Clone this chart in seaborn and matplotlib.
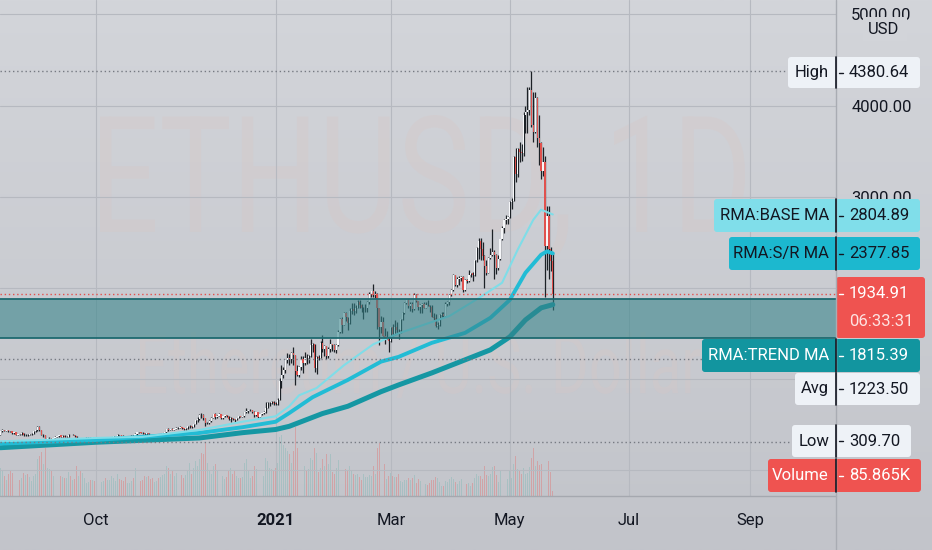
import matplotlib
matplotlib.use('Agg')
import matplotlib.pyplot as plt
import matplotlib.dates as mdates
import matplotlib.transforms as mtransforms
from matplotlib.colors import LinearSegmentedColormap
from matplotlib.patches import FancyBboxPatch, PathPatch, Rectangle
from matplotlib.textpath import TextPath
from matplotlib.font_manager import FontProperties
from matplotlib.ticker import FuncFormatter
import numpy as np
import pandas as pd
import seaborn as sns

sns.set_theme(style='white')
plt.rcParams['font.family'] = ['Roboto', 'DejaVu Sans']

# ---- ETHUSD daily candles, 2020-08-13 .. 2021-05-23 ----
start_date = '2020-08-13'
first_open = 390

close_aug = [428, 437, 433, 434, 429, 423, 406, 416, 389, 396, 391, 408, 382, 386, 382, 395, 399, 428, 434]
high_aug = [430, 446, 440, 438, 440, 431, 425, 420, 418, 398, 398, 415, 410, 393, 395, 398, 402, 430, 436]
low_aug = [389, 418, 425, 424, 418, 415, 400, 398, 385, 383, 387, 389, 378, 378, 370, 380, 390, 398, 420]

close_sep = [477, 440, 385, 388, 335, 353, 353, 337, 351, 368, 374, 387, 366, 377, 364, 365, 389, 384, 385, 371,
             341, 344, 321, 349, 352, 354, 357, 354, 360, 359]
high_sep = [480, 480, 440, 400, 390, 353, 358, 355, 352, 373, 375, 390, 390, 380, 382, 372, 394, 390, 392, 385,
            372, 348, 347, 351, 356, 360, 363, 363, 363, 362]
low_sep = [430, 426, 380, 367, 309.7, 324, 334, 329, 332, 348, 359, 368, 359, 360, 360, 360, 365, 380, 380, 365,
           335, 337, 318, 320, 345, 347, 348, 350, 348, 350]

close_oct = [353, 346, 346, 352, 352, 340, 341, 350, 365, 370, 375, 387, 381, 379, 377, 366, 368, 377, 379, 369,
             391, 412, 413, 410, 406, 393, 404, 388, 386, 383, 386]
high_oct = [361, 355, 350, 354, 354, 354, 343, 352, 368, 373, 377, 394, 388, 383, 381, 378, 369, 378, 382, 380,
            411, 416, 415, 416, 415, 409, 408, 406, 390, 389, 396]
low_oct = [350, 338, 343, 343, 348, 334, 336, 337, 346, 363, 369, 370, 377, 375, 374, 355, 363, 366, 374, 365,
           368, 384, 405, 404, 400, 381, 389, 381, 377, 373, 379]

close_nov = [396, 383, 388, 401, 415, 448, 435, 453, 444, 449, 462, 462, 475, 460, 448, 460, 480, 480, 472, 509,
             548, 559, 608, 603, 568, 517, 518, 537, 575, 615]
high_nov = [397, 398, 390, 410, 418, 455, 458, 455, 458, 454, 475, 470, 480, 476, 461, 462, 484, 495, 481, 510,
            550, 577, 610, 622, 615, 570, 532, 547, 578, 617]
low_nov = [383, 379, 373, 383, 400, 411, 425, 434, 434, 442, 447, 454, 459, 446, 443, 440, 455, 463, 463, 470,
           508, 528, 550, 573, 551, 480, 500, 507, 532, 570]

close_dec = [587, 598, 616, 570, 596, 601, 592, 555, 573, 560, 546, 568, 589, 586, 589, 636, 643, 655, 659, 638,
             609, 634, 584, 611, 626, 636, 683, 731, 731, 751, 737]
high_dec = [631, 605, 623, 617, 598, 604, 605, 594, 577, 576, 560, 573, 596, 595, 596, 640, 676, 661, 667, 662,
            644, 637, 637, 614, 630, 648, 750, 742, 748, 756, 754]
low_dec = [564, 571, 590, 561, 565, 585, 581, 547, 528, 550, 531, 545, 566, 577, 580, 585, 631, 622, 648, 624,
           585, 591, 560, 577, 606, 613, 627, 685, 705, 723, 716]

close_jan = [730, 774, 975, 1041, 1100, 1208, 1225, 1224, 1281, 1262, 1090, 1043, 1130, 1218, 1171, 1233, 1230,
             1257, 1377, 1382, 1121, 1236, 1231, 1392, 1325, 1363, 1249, 1333, 1382, 1376, 1314]
high_jan = [749, 787, 1011, 1150, 1132, 1210, 1280, 1275, 1299, 1348, 1260, 1150, 1140, 1248, 1250, 1296, 1272,
            1265, 1442, 1393, 1385, 1250, 1265, 1420, 1477, 1370, 1364, 1345, 1438, 1385, 1380]
low_jan = [719, 714, 771, 900, 1007, 1065, 1170, 1157, 1170, 1150, 930, 1030, 1020, 1100, 1070, 1150, 1165,
           1170, 1245, 1297, 1080, 1050, 1210, 1230, 1300, 1250, 1220, 1230, 1300, 1310, 1300]

close_feb = [1370, 1514, 1661, 1589, 1724, 1677, 1614, 1750, 1769, 1744, 1783, 1843, 1815, 1777, 1782, 1782,
             1846, 1937, 1960, 1919, 1935, 1777, 1570, 1626, 1475, 1446, 1459, 1417]
high_feb = [1380, 1540, 1665, 1680, 1735, 1740, 1680, 1773, 1830, 1830, 1815, 1870, 1871, 1825, 1790, 1820,
            1860, 1950, 1970, 2040, 1960, 1940, 1775, 1690, 1680, 1560, 1530, 1470]
low_feb = [1290, 1360, 1500, 1500, 1590, 1640, 1540, 1600, 1710, 1700, 1725, 1775, 1780, 1740, 1660, 1740,
           1740, 1820, 1900, 1900, 1890, 1550, 1370, 1500, 1470, 1380, 1435, 1300]

close_mar = [1567, 1488, 1575, 1541, 1534, 1656, 1725, 1835, 1870, 1796, 1826, 1772, 1925, 1854, 1792, 1806,
             1823, 1783, 1816, 1806, 1785, 1683, 1671, 1584, 1588, 1701, 1716, 1691, 1819, 1847, 1919]
high_mar = [1570, 1600, 1650, 1620, 1545, 1660, 1730, 1840, 1870, 1875, 1840, 1840, 1940, 1930, 1860, 1820,
            1835, 1845, 1845, 1870, 1815, 1810, 1720, 1710, 1630, 1715, 1730, 1735, 1840, 1860, 1930]
low_mar = [1410, 1475, 1480, 1500, 1440, 1500, 1645, 1715, 1820, 1780, 1750, 1730, 1760, 1840, 1760, 1720,
           1725, 1775, 1775, 1795, 1740, 1675, 1645, 1565, 1550, 1580, 1685, 1680, 1690, 1800, 1810]

close_apr = [1977, 2143, 2028, 2093, 2108, 2119, 1971, 2089, 2072, 2136, 2158, 2139, 2300, 2432, 2515, 2426,
             2346, 2237, 2167, 2331, 2356, 2398, 2363, 2214, 2316, 2534, 2662, 2747, 2757, 2772]
high_apr = [1990, 2150, 2145, 2115, 2125, 2128, 2130, 2100, 2100, 2200, 2165, 2170, 2310, 2450, 2545, 2550,
            2500, 2360, 2300, 2340, 2435, 2645, 2415, 2370, 2360, 2540, 2680, 2760, 2795, 2790]
low_apr = [1915, 1965, 2020, 2005, 2035, 2075, 1950, 1960, 2050, 2060, 2115, 2080, 2130, 2280, 2320, 2300,
           2310, 2000, 2140, 2160, 2315, 2350, 2100, 2150, 2200, 2300, 2520, 2600, 2700, 2700]

close_may = [2945, 2950, 3431, 3253, 3522, 3490, 3484, 3902, 3928, 3952, 4168, 3785, 3715, 4079, 3643, 3589,
             3282, 3380, 2460, 2784, 2431, 2296, 1934.91]
high_may = [2950, 2985, 3450, 3530, 3540, 3600, 3580, 3925, 4000, 4200, 4200, 4380.64, 4150, 4150, 4090, 3900,
            3600, 3550, 3450, 2900, 2900, 2450, 2380]
low_may = [2765, 2860, 2950, 3160, 3220, 3380, 3390, 3450, 3700, 3700, 3900, 3770, 3600, 3700, 3550, 3350,
           3190, 3230, 1900, 2200, 2100, 2180, 1760]

# volume, thousands
vol_aug = [520, 480, 380, 300, 420, 460, 440, 390, 520, 380, 300, 330, 430, 400, 420, 360, 280, 380, 420]
vol_sep = [700, 750, 820, 600, 900, 520, 500, 480, 380, 420, 330, 300, 380, 360, 340, 330, 450, 380, 300, 320,
           560, 380, 460, 430, 340, 250, 260, 300, 300, 290]
vol_oct = [330, 380, 250, 260, 280, 340, 300, 300, 380, 330, 280, 420, 320, 300, 290, 360, 250, 240, 280, 330,
           520, 480, 360, 280, 300, 380, 350, 380, 320, 340, 260]
vol_nov = [280, 330, 350, 400, 420, 560, 520, 420, 480, 380, 430, 420, 400, 390, 330, 400, 480, 620, 420, 520,
           650, 560, 700, 800, 780, 1000, 620, 460, 420, 560]
vol_dec = [600, 480, 420, 520, 380, 320, 360, 480, 520, 420, 480, 380, 330, 330, 360, 620, 700, 480, 340, 380,
           560, 500, 700, 450, 380, 380, 720, 650, 520, 500, 460]
vol_jan = [520, 620, 1100, 1150, 950, 900, 850, 780, 620, 850, 1300, 900, 700, 650, 720, 560, 480, 500, 720, 680,
           900, 800, 450, 520, 700, 560, 780, 600, 780, 450, 420]
vol_feb = [520, 680, 620, 720, 520, 500, 480, 560, 460, 420, 400, 420, 350, 300, 420, 360, 360, 400, 380, 560,
           420, 900, 1000, 620, 560, 600, 320, 380]
vol_mar = [440, 380, 360, 360, 420, 280, 260, 300, 300, 330, 300, 330, 400, 250, 310, 280, 320, 300, 230, 200,
           240, 300, 300, 360, 330, 260, 190, 180, 280, 260, 320]
vol_apr = [360, 320, 260, 220, 280, 310, 360, 260, 220, 250, 190, 250, 330, 420, 380, 380, 320, 560, 400, 380,
           420, 550, 560, 400, 260, 480, 500, 380, 360, 320]
vol_may = [480, 330, 600, 750, 500, 480, 420, 520, 420, 430, 540, 720, 900, 560, 650, 580, 600, 600, 1800, 800,
           650, 450, 85.865]

closes = close_aug + close_sep + close_oct + close_nov + close_dec + close_jan + close_feb + close_mar + close_apr + close_may
highs = high_aug + high_sep + high_oct + high_nov + high_dec + high_jan + high_feb + high_mar + high_apr + high_may
lows = low_aug + low_sep + low_oct + low_nov + low_dec + low_jan + low_feb + low_mar + low_apr + low_may
volumes = vol_aug + vol_sep + vol_oct + vol_nov + vol_dec + vol_jan + vol_feb + vol_mar + vol_apr + vol_may
opens = [first_open] + closes[:-1]

# RMA lines
base_dates = ['2020-08-13', '2020-09-10', '2020-10-01', '2020-10-25', '2020-11-23', '2020-12-15', '2021-01-01',
              '2021-01-08', '2021-01-13', '2021-01-22', '2021-02-05', '2021-02-20', '2021-03-05', '2021-03-31',
              '2021-04-16', '2021-04-27', '2021-05-05', '2021-05-13', '2021-05-17', '2021-05-23']
base_vals = [315, 335, 352, 365, 440, 530, 590, 700, 820, 900, 1150, 1380, 1500, 1690, 1900, 2055, 2418, 2747,
             2857, 2804.89]
sr_dates = ['2020-08-13', '2020-10-01', '2020-11-23', '2020-12-15', '2021-01-01', '2021-01-08', '2021-01-20',
            '2021-02-07', '2021-02-24', '2021-03-05', '2021-03-22', '2021-04-08', '2021-04-21', '2021-05-01',
            '2021-05-09', '2021-05-17', '2021-05-20', '2021-05-23']
sr_vals = [290, 330, 407, 470, 530, 626, 800, 989, 1190, 1242, 1396, 1505, 1670, 1868, 2165, 2363, 2400, 2377.85]
trend_dates = ['2020-08-13', '2020-10-01', '2020-11-23', '2020-12-15', '2021-01-01', '2021-01-08', '2021-01-25',
               '2021-02-07', '2021-02-24', '2021-03-05', '2021-03-22', '2021-04-08', '2021-04-21', '2021-05-01',
               '2021-05-09', '2021-05-17', '2021-05-23']
trend_vals = [245, 305, 352, 410, 445, 480, 620, 700, 860, 934, 1066, 1209, 1319, 1462, 1648, 1780, 1815.39]

zone_low, zone_high = 1451, 1879
high_val, low_val, avg_val, last_val = 4380.64, 309.70, 1223.50, 1934.91

tick_dates = ['2020-10-01', '2021-01-01', '2021-03-01', '2021-05-01', '2021-07-01', '2021-09-01']
tick_labels = ['Oct', '2021', 'Mar', 'May', 'Jul', 'Sep']
price_ticks = [0, 1000, 2000, 3000, 4000, 5000]
shown_price_labels = [3000, 4000, 5000]   # the rest sit under the tags

df = pd.DataFrame({'date': pd.date_range(start_date, periods=len(closes), freq='D'),
                   'open': opens, 'high': highs, 'low': lows, 'close': closes, 'volume': volumes})
df['x'] = mdates.date2num(df['date'])
up = df['close'] >= df['open']

# ---- figure ----
W, H = 932, 550
fig = plt.figure(figsize=(W / 100, H / 100), dpi=100)

# background + watermark, pixel coords
bg = fig.add_axes([0, 0, 1, 1], zorder=0)
bg.set_xlim(0, W)
bg.set_ylim(H, 0)
bg.axis('off')
cmap = LinearSegmentedColormap.from_list('bgr', ['#d3d5da', '#c2c4ca'])
bg.imshow(np.linspace(0, 1, 256).reshape(-1, 1), cmap=cmap, extent=[0, W, H, 0], aspect='auto')


def watermark(ax_, text, x0, x1, y_top, y_bot):
    tp = TextPath((0, 0), text, size=100, prop=FontProperties(family='Roboto'))
    bb = tp.get_extents()
    tr = mtransforms.Affine2D().translate(-bb.x0, -bb.y0).scale((x1 - x0) / bb.width, -(y_bot - y_top) / bb.height)
    tr = tr.translate(x0, y_bot)
    ax_.add_patch(PathPatch(tr.transform_path(tp), facecolor='#d8c7c5', edgecolor='none', alpha=0.32))


watermark(bg, 'ETHUSD, 1D', 100, 745, 115, 255)
watermark(bg, 'Ethereum / U.S. Dollar', 140, 700, 332, 398)

rect = [0, 54 / H, 836 / W, 496 / H]
x_left = mdates.date2num(pd.Timestamp('2020-08-13')) - 0.2
x_right = x_left + 836 / 1.952

vax = fig.add_axes(rect, zorder=1)
vax.patch.set_alpha(0)
vax.axis('off')
vax.bar(df['x'][up], df['volume'][up], width=0.45, color='#3aa89e', alpha=0.2, linewidth=0)
vax.bar(df['x'][~up], df['volume'][~up], width=0.45, color='#ef5350', alpha=0.3, linewidth=0)
vax.set_xlim(x_left, x_right)
vax.set_ylim(0, 9300)

ax = fig.add_axes(rect, zorder=2)
ax.patch.set_alpha(0)
ax.set_xlim(x_left, x_right)
ax.set_ylim(-285, 5159)
for s in ax.spines.values():
    s.set_visible(False)

ax.set_yticks(price_ticks)
ax.yaxis.set_major_formatter(FuncFormatter(lambda v, p: f'{v:.2f}' if v in shown_price_labels else ''))
ax.yaxis.tick_right()
ax.tick_params(axis='y', length=0, pad=11, labelsize=12, labelcolor='#131722')
ax.set_xticks(mdates.date2num(pd.to_datetime(tick_dates)))
ax.set_xticklabels(tick_labels)
ax.tick_params(axis='x', length=5, width=0.8, color='#a9acb3', pad=7, labelsize=12, labelcolor='#131722')
ax.get_xticklabels()[1].set_fontweight('bold')
ax.grid(True, color='#b6b9c0', lw=0.8)

# candles
ax.vlines(df['x'], df['low'], df['high'], color='#1c2126', lw=0.9, zorder=3)
body = (df['close'] - df['open']).abs()
ax.bar(df['x'], body, bottom=df[['open', 'close']].min(axis=1), width=0.65,
       color=np.where(up, '#f6f7f9', '#e0524e'), linewidth=0, zorder=4)

# RMA lines
for d, v, c, lw in [(trend_dates, trend_vals, '#1597a3', 3.6),
                    (sr_dates, sr_vals, '#22bcd5', 2.8),
                    (base_dates, base_vals, '#7fdde8', 1.5)]:
    ma = pd.DataFrame({'x': mdates.date2num(pd.to_datetime(d)), 'v': v})
    sns.lineplot(data=ma, x='x', y='v', ax=ax, color=c, linewidth=lw, zorder=5, solid_capstyle='round')
ax.set_xlabel('')
ax.set_ylabel('')

# zone + reference lines
ax.axhspan(zone_low, zone_high, color='#36848a', alpha=0.58, lw=0, zorder=6)
ax.axhline(zone_high, color='#1e6a70', lw=1.3, zorder=7)
ax.axhline(zone_low, color='#1e6a70', lw=1.3, zorder=7)
for val, col in [(high_val, '#767a82'), (avg_val, '#767a82'), (low_val, '#767a82'), (last_val, '#e4504c')]:
    ax.axhline(val, color=col, lw=1.0, ls=(0, (1, 2)), zorder=7)

# ---- overlay labels (pixel coords) ----
ov = fig.add_axes([0, 0, 1, 1], zorder=10)
ov.set_xlim(0, W)
ov.set_ylim(H, 0)
ov.axis('off')
ov.patch.set_alpha(0)
ov.plot([0, 836], [496, 496], color='#a5a8af', lw=1)
ov.plot([836, 836], [0, H], color='#a9acb3', lw=1)

# "USD" sits over the lower half of the 5000.00 label, as in the app
ov.add_patch(Rectangle((863, 17), 44, 24, facecolor='#d2d4d9', edgecolor='none'))
ov.text(884, 29, 'USD', ha='center', va='center', fontsize=12, color='#131722')


def tag(x0, x1, y0, y1, fc, label, value, tc):
    ov.add_patch(FancyBboxPatch((x0, y0), x1 - x0, y1 - y0, boxstyle='round,pad=0,rounding_size=3',
                                facecolor=fc, edgecolor='none'))
    ov.plot([836, 836], [y0, y1], color='#131722', lw=1.2)
    yc = (y0 + y1) / 2
    ov.plot([839, 843], [yc, yc], color=tc, lw=1)
    ov.text(829, yc, label, ha='right', va='center', fontsize=12, color=tc)
    ov.text(849, yc, value, ha='left', va='center', fontsize=12, color=tc)


tag(788, 920, 57, 88, '#eef2f7', 'High', f'{high_val:.2f}', '#131722')
tag(714, 920, 199, 232, '#80deea', 'RMA:BASE MA', f'{base_vals[-1]:.2f}', '#131722')
tag(729, 920, 237, 270, '#1cb8cf', 'RMA:S/R MA', f'{sr_vals[-1]:.2f}', '#131722')
tag(702, 920, 339, 372, '#12959f', 'RMA:TREND MA', f'{trend_vals[-1]:.2f}', '#ffffff')
tag(795, 920, 373, 405, '#eef2f7', 'Avg', f'{avg_val:.2f}', '#131722')
tag(792, 911, 425, 457, '#eef2f7', 'Low', f'{low_val:.2f}', '#131722')
tag(768, 921, 459, 492, '#ef5350', 'Volume', f'{volumes[-1]:.3f}K', '#ffffff')

ov.add_patch(FancyBboxPatch((836, 277), 89, 61, boxstyle='round,pad=0,rounding_size=3',
                            facecolor='#ef5350', edgecolor='none'))
ov.plot([839, 843], [294, 294], color='#ffffff', lw=1)
ov.text(849, 294, f'{last_val:.2f}', ha='left', va='center', fontsize=12, color='#ffffff')
ov.text(849, 322, '06:33:31', ha='left', va='center', fontsize=12, color='#fde3e2')

fig.savefig('out.png', dpi=100)
